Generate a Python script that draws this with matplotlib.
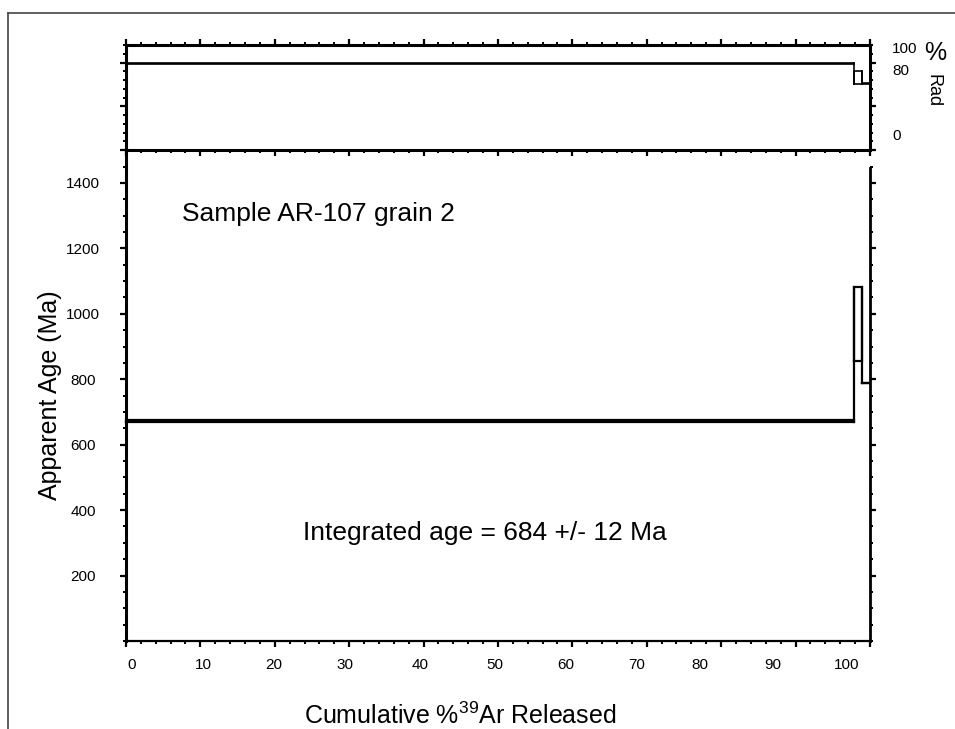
import matplotlib
matplotlib.use("Agg")
import matplotlib.pyplot as plt
from matplotlib.lines import Line2D
from matplotlib.ticker import MultipleLocator
import matplotlib.transforms as mtransforms

plt.rcParams["font.family"] = ["Liberation Sans", "DejaVu Sans"]
plt.rcParams["mathtext.fontset"] = "custom"
plt.rcParams["mathtext.rm"] = "Liberation Sans"

# -----------------------
# Datos de los pasos (espectro de edad)
# -----------------------
cum_ar39 = [0.0, 97.8, 99.0, 100.0]      # % 39Ar acumulado (bordes de cada paso)
age_ma = [672, 970, 789]                 # edad aparente (Ma)
age_err = [4, 113, 1]                    # error (Ma)
rad_pct = [99.0, 83.0, 76.0]             # % radiogenico
rad_err = [0.3, 7.0, 0.3]

x_ticks = [0, 10, 20, 30, 40, 50, 60, 70, 80, 90, 100]
age_ticks = [200, 400, 600, 800, 1000, 1200, 1400]
rad_labels = ["100", "80", "0"]
rad_label_y = [115.5, 90, 16]            # posiciones de las etiquetas de la derecha
xlabel_shift_px = [6, 3, -1, -4, -3, -3, -7, -10, -21, -23, -23]


def draw_steps(ax, edges, vals, errs, lw):
    # cajas por paso + lineas verticales de union
    n = len(vals)
    for i in range(n):
        x0, x1 = edges[i], edges[i + 1]
        lo, hi = vals[i] - errs[i], vals[i] + errs[i]
        ax.plot([x0, x1, x1, x0, x0], [lo, lo, hi, hi, lo], color="black",
                lw=lw, solid_joinstyle="miter", clip_on=False)
        if i < n - 1:
            lo2, hi2 = vals[i + 1] - errs[i + 1], vals[i + 1] + errs[i + 1]
            ax.plot([x1, x1], [min(lo, lo2), max(hi, hi2)], color="black",
                    lw=lw, clip_on=False)


fig = plt.figure(figsize=(9.55, 7.29), dpi=100)
ax = fig.add_axes([0.1319, 0.1207, 0.779, 0.6733])
ax_rad = fig.add_axes([0.1319, 0.794, 0.779, 0.1443])
ax.patch.set_visible(False)
ax_rad.patch.set_visible(False)

# -----------------------
# Panel superior: % Rad
# -----------------------
draw_steps(ax_rad, cum_ar39, rad_pct, rad_err, lw=1.2)
ax_rad.set_xlim(0, 100)
ax_rad.set_ylim(0, 120)
ax_rad.xaxis.set_major_locator(MultipleLocator(10))
ax_rad.xaxis.set_minor_locator(MultipleLocator(2))
ax_rad.yaxis.set_major_locator(MultipleLocator(50))
ax_rad.yaxis.set_minor_locator(MultipleLocator(10))
ax_rad.tick_params(which="both", direction="out", top=True, bottom=True,
                   left=True, right=True, labelleft=False, labelbottom=False)
ax_rad.tick_params(which="major", length=4, width=1.6)
ax_rad.tick_params(which="minor", length=2, width=1.4)
for s in ax_rad.spines.values():
    s.set_linewidth(2.2)

for lab, yv in zip(rad_labels, rad_label_y):
    ax_rad.text(1.03, yv, lab, transform=ax_rad.get_yaxis_transform(),
                ha="left", va="center", fontsize=11)
ax_rad.text(1.088, 0.92, "%", transform=ax_rad.transAxes, ha="center",
            va="center", fontsize=18)
ax_rad.text(1.085, 0.57, "Rad", transform=ax_rad.transAxes, ha="center",
            va="center", fontsize=13, rotation=270)

# -----------------------
# Panel principal: edad aparente
# -----------------------
draw_steps(ax, cum_ar39, age_ma, age_err, lw=1.6)
ax.set_xlim(0, 100)
ax.set_ylim(0, 1500)
ax.set_xticks(x_ticks)
ax.set_xticklabels([str(v) for v in x_ticks], fontsize=11)
ax.xaxis.set_minor_locator(MultipleLocator(2))
ax.set_yticks(age_ticks)
ax.set_yticklabels([str(v) for v in age_ticks], fontsize=11, ha="center")
ax.yaxis.set_minor_locator(MultipleLocator(50))
ax.tick_params(which="both", direction="out", top=False, right=True)
ax.tick_params(which="major", length=4, width=1.6)
ax.tick_params(which="minor", length=2, width=1.4)
ax.tick_params(axis="x", pad=8)
ax.tick_params(axis="y", pad=27)

ax.spines["top"].set_visible(False)
ax.spines["left"].set_linewidth(2.2)
ax.spines["right"].set_linewidth(2.0)
ax.spines["bottom"].set_linewidth(1.6)
ax.spines["right"].set_bounds(0, 1445)

# etiquetas del eje x desplazadas como en el original
for lab, dx in zip(ax.get_xticklabels(), xlabel_shift_px):
    off = mtransforms.ScaledTranslation(dx / 100.0, 0, fig.dpi_scale_trans)
    lab.set_transform(lab.get_transform() + off)

ax.set_xlabel(r"Cumulative %$^{\mathrm{39}}$Ar Released", fontsize=18)
ax.xaxis.set_label_coords(0.449, -0.125)
ax.set_ylabel("Apparent Age (Ma)", fontsize=18)
ax.yaxis.set_label_coords(-0.086, 0.50)

ax.text(0.0753, 0.87, "Sample AR-107 grain 2", transform=ax.transAxes,
        ha="left", va="center", fontsize=19)
ax.text(0.238, 0.22, "Integrated age = 684 +/- 12 Ma", transform=ax.transAxes,
        ha="left", va="center", fontsize=19)

# marco exterior (izquierda y arriba)
fig.add_artist(Line2D([8 / 955, 8 / 955], [0, 1 - 13 / 729], color="#444444",
                      lw=1.2, transform=fig.transFigure))
fig.add_artist(Line2D([8 / 955, 1], [1 - 13 / 729, 1 - 13 / 729], color="#444444",
                      lw=1.2, transform=fig.transFigure))

plt.savefig("out.png", dpi=100)
